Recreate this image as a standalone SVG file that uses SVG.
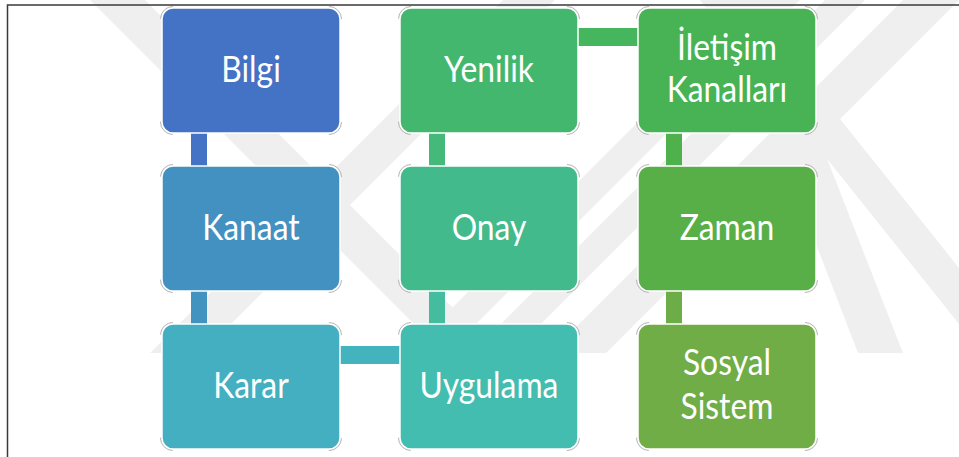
<svg xmlns="http://www.w3.org/2000/svg" width="959" height="457" viewBox="0 0 959 457">
  <style>
    .wm { fill: #efefef; }
    .frame { fill: none; stroke: #3a3a3a; stroke-width: 1.5; }
    .box { stroke: #ffffff; stroke-width: 1.5; }
    .corner { fill: none; stroke: #b4b4b4; stroke-width: 1; stroke-dasharray: 0 156 19.63 103 19.63 156 19.63 103 19.63; }
    .label { fill: #ffffff; font-family: Lato, "Liberation Sans", sans-serif; font-size: 37px; text-anchor: middle; }
  </style>

  <rect width="959" height="457" fill="#ffffff"/>

  <!-- background watermark stripes, cut flat at y=353 -->
  <g id="watermark">
    <polygon class="wm" points="90,0 145,0 498,353 443,353"/>
    <polygon class="wm" points="150,353 202,353 555,0 503,0"/>
    <polygon class="wm" points="760,0 800,0 447,353 407,353"/>
    <polygon class="wm" points="825,0 865,0 512,353 472,353"/>
    <polygon class="wm" points="903,0 959,0 606,353 550,353"/>
    <polygon class="wm" points="700,0 745,0 959,268 959,324"/>
    <polygon class="wm" points="722,0 765,0 903,353 858,353"/>
  </g>

  <!-- page frame -->
  <path class="frame" d="M7.5,457 V5 H959"/>

  <!-- connectors -->
  <g id="connectors">
    <rect x="191" y="133" width="16" height="33" fill="#4472C4"/>
    <rect x="191" y="291" width="16" height="33" fill="#4393C0"/>
    <rect x="340" y="346" width="60" height="18" fill="#43B3BE"/>
    <rect x="429" y="291" width="16" height="33" fill="#43BD9E"/>
    <rect x="429" y="133" width="16" height="33" fill="#44B97A"/>
    <rect x="578" y="28" width="60" height="18" fill="#45B55E"/>
    <rect x="666" y="133" width="16" height="33" fill="#4FB14B"/>
    <rect x="666" y="291" width="16" height="33" fill="#6CAD47"/>
  </g>

  <g id="bilgi">
    <rect class="box" x="162" y="8" width="178" height="125" rx="11" fill="#4472C4"/>
    <rect class="corner" x="160.5" y="6.5" width="181" height="128" rx="12.5"/>
    <text class="label" transform="translate(251 82) scale(0.86 1)">Bilgi</text>
  </g>
  <g id="kanaat">
    <rect class="box" x="162" y="166" width="178" height="125" rx="11" fill="#4391C0"/>
    <rect class="corner" x="160.5" y="164.5" width="181" height="128" rx="12.5"/>
    <text class="label" transform="translate(251 240) scale(0.86 1)">Kanaat</text>
  </g>
  <g id="karar">
    <rect class="box" x="162" y="324" width="178" height="125" rx="11" fill="#43AFC0"/>
    <rect class="corner" x="160.5" y="322.5" width="181" height="128" rx="12.5"/>
    <text class="label" transform="translate(251 398) scale(0.86 1)">Karar</text>
  </g>
  <g id="uygulama">
    <rect class="box" x="400" y="324" width="178" height="125" rx="11" fill="#43BDB0"/>
    <rect class="corner" x="398.5" y="322.5" width="181" height="128" rx="12.5"/>
    <text class="label" transform="translate(489 398) scale(0.86 1)">Uygulama</text>
  </g>
  <g id="onay">
    <rect class="box" x="400" y="166" width="178" height="125" rx="11" fill="#43BA8C"/>
    <rect class="corner" x="398.5" y="164.5" width="181" height="128" rx="12.5"/>
    <text class="label" transform="translate(489 240) scale(0.86 1)">Onay</text>
  </g>
  <g id="yenilik">
    <rect class="box" x="400" y="8" width="178" height="125" rx="11" fill="#44B76E"/>
    <rect class="corner" x="398.5" y="6.5" width="181" height="128" rx="12.5"/>
    <text class="label" transform="translate(489 82) scale(0.86 1)">Yenilik</text>
  </g>
  <g id="iletisim-kanallari">
    <rect class="box" x="638" y="8" width="178" height="125" rx="11" fill="#47B354"/>
    <rect class="corner" x="636.5" y="6.5" width="181" height="128" rx="12.5"/>
    <text class="label" transform="translate(727 60) scale(0.86 1)">İletişim</text>
    <text class="label" transform="translate(727 102) scale(0.86 1)">Kanalları</text>
  </g>
  <g id="zaman">
    <rect class="box" x="638" y="166" width="178" height="125" rx="11" fill="#58AF47"/>
    <rect class="corner" x="636.5" y="164.5" width="181" height="128" rx="12.5"/>
    <text class="label" transform="translate(727 240) scale(0.86 1)">Zaman</text>
  </g>
  <g id="sosyal-sistem">
    <rect class="box" x="638" y="324" width="178" height="125" rx="11" fill="#70AD47"/>
    <rect class="corner" x="636.5" y="322.5" width="181" height="128" rx="12.5"/>
    <text class="label" transform="translate(727 375) scale(0.86 1)">Sosyal</text>
    <text class="label" transform="translate(727 419) scale(0.86 1)">Sistem</text>
  </g>
</svg>
